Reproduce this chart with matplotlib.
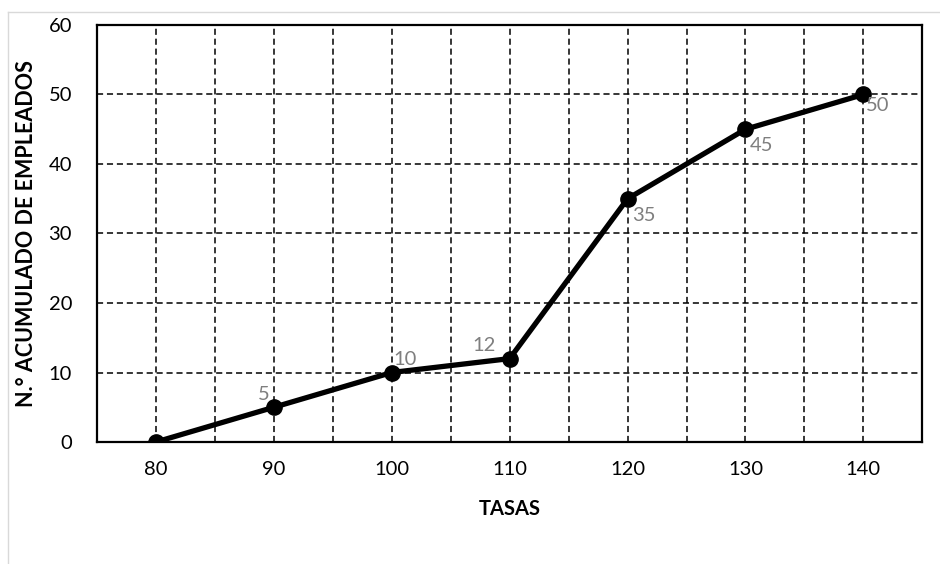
import matplotlib
matplotlib.use("Agg")
import matplotlib.pyplot as plt
from matplotlib.lines import Line2D

tasas = [80, 90, 100, 110, 120, 130, 140]
acumulado = [0, 5, 10, 12, 35, 45, 50]
etiquetas = ["", "5", "10", "12", "35", "45", "50"]
# offsets for data labels (points)
offs = [(0, 0), (-3, 3), (1, 3), (-10, 3), (3, -12), (3, -12), (2, -8)]

plt.rcParams['font.family'] = ['Lato', 'DejaVu Sans']

fig = plt.figure(figsize=(9.4, 5.64), dpi=100)
ax = fig.add_axes([0.1032, 0.2163, 0.878, 0.7394])

ax.plot(tasas, acumulado, color="black", lw=3.8, marker="o", ms=11, zorder=3)

for x, y, t, o in zip(tasas, acumulado, etiquetas, offs):
    if t:
        ax.annotate(t, (x, y), xytext=o, textcoords="offset points",
                    ha="left" if o[0] >= 0 else "right",
                    va="bottom" if o[1] >= 0 else "center",
                    color="#7f7f7f", fontsize=14.5)

ax.set_xlim(75, 145)
ax.set_ylim(0, 60)
ax.set_xticks(tasas)
ax.set_xticks(range(75, 146, 5), minor=True)
ax.set_yticks(range(0, 61, 10))
ax.tick_params(axis="both", which="both", length=0, labelsize=14.5)
ax.tick_params(axis="y", pad=18)
ax.tick_params(axis="x", pad=14)

ax.grid(True, which="both", axis="x", color="black", ls=(0, (4, 2.5)), lw=1.1)
ax.grid(True, which="major", axis="y", color="black", ls=(0, (4, 2.5)), lw=1.1)

for s in ax.spines.values():
    s.set_color("black")
    s.set_linewidth(1.6)

ax.set_xlabel("TASAS", fontsize=14.5, fontweight="bold", labelpad=15)
ax.set_ylabel("N.° ACUMULADO DE EMPLEADOS", fontsize=15.5, fontweight="bold", labelpad=8)

# thin gray chart frame (top and left edges visible)
fig.add_artist(Line2D([8 / 940, 1], [1 - 12 / 564, 1 - 12 / 564], color="#d9d9d9", lw=1))
fig.add_artist(Line2D([8 / 940, 8 / 940], [0, 1 - 12 / 564], color="#d9d9d9", lw=1))

fig.savefig("out.png", dpi=100)
